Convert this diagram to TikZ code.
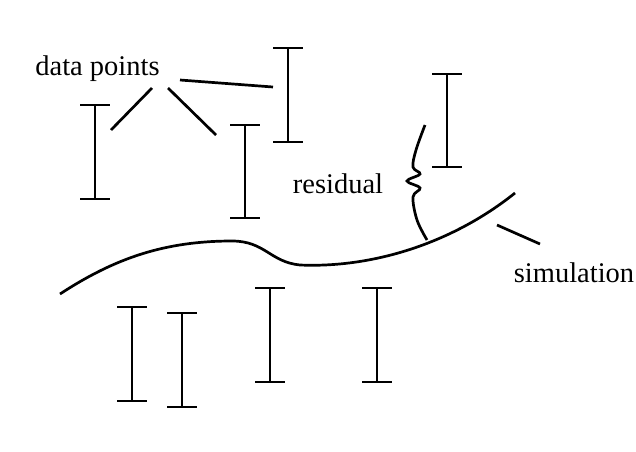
\documentclass[tikz,border=0pt]{standalone}
\usepackage{fontspec}
\setmainfont{Liberation Serif}
\begin{document}
\begin{tikzpicture}[x=1pt,y=-1pt,
  bar/.style={line width=2.7pt},
  lead/.style={line width=2.7pt},
  lbl/.style={font=\fontsize{28.5}{32}\selectfont,inner sep=0pt,anchor=base}]
\useasboundingbox (0,0) rectangle (636,451);
% error bars
\foreach \x/\a/\b [count=\i] in {95/105/199, 245/125/218, 288/48/142, 447/74/167, 132/307/401, 182/313/407, 270/288/382, 377/288/382}{
  \coordinate (t\i) at (\x,\a);
  \coordinate (b\i) at (\x,\b);
  \draw[bar] (t\i) -- (b\i);
  \draw[bar] ([xshift=-15pt]t\i) -- ([xshift=15pt]t\i);
  \draw[bar] ([xshift=-15pt]b\i) -- ([xshift=15pt]b\i);
}
% labels
\node[lbl] (dp) at (97.5,75) {data points};
\node[lbl] (res) at (338,193) {residual};
\node[lbl] (sim) at (574,282) {simulation};
% data point leaders
\coordinate (l1a) at (152,88); \coordinate (l1b) at (111,130);
\coordinate (l2a) at (168,88); \coordinate (l2b) at (216,135);
\coordinate (l3a) at (180,80); \coordinate (l3b) at (273,87);
\draw[lead] (l1a) -- (l1b);
\draw[lead] (l2a) -- (l2b);
\draw[lead] (l3a) -- (l3b);
% simulation leader
\coordinate (s1) at (497,225); \coordinate (s2) at (540,244);
\draw[lead] (s1) -- (s2);
% simulation curve
\coordinate (c0) at (60,294); \coordinate (c1) at (232,241);
\coordinate (c2) at (300,265); \coordinate (c3) at (515,193);
\draw[line width=2.7pt] (c0) .. controls (115,258) and (165,241) .. (c1)
  .. controls (265,241) and (270,262) .. (c2)
  .. controls (370,268) and (450,245) .. (c3);
% residual brace
\draw[line width=2.7pt] plot[smooth,tension=0.6] coordinates {(425,125) (416,150) (413,167) (420,174) (407,181) (420,188) (413,197) (417,220) (427,240)};
\end{tikzpicture}
\end{document}
